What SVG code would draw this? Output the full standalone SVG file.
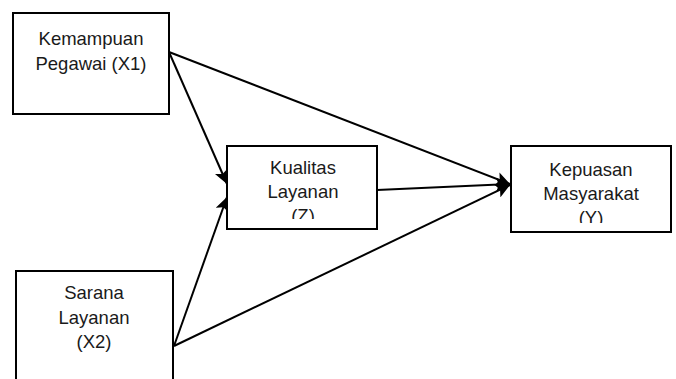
<svg xmlns="http://www.w3.org/2000/svg" width="676" height="379" viewBox="0 0 676 379">
<style>
.box{fill:#fff;stroke:#000;stroke-width:2}
.t{font-family:"Liberation Sans",Arial,sans-serif;font-size:18.5px;fill:#1a1a1a;text-anchor:middle}
.c{stroke:#000;stroke-width:2;fill:none;marker-end:url(#ah)}
</style>
<defs>
<marker id="ah" viewBox="0 0 14 14" refX="14" refY="7" markerWidth="14" markerHeight="14" markerUnits="userSpaceOnUse" orient="auto">
<path d="M0,0 L14,7 L0,14 L3,7 Z" fill="#000"/>
</marker>
<clipPath id="clipZ"><rect x="228" y="147" width="148" height="72"/></clipPath>
<clipPath id="clipY"><rect x="512" y="147" width="158" height="76"/></clipPath>
</defs>
<rect width="676" height="379" fill="#fff"/>
<g id="connectors">
<line class="c" x1="169" y1="52" x2="510" y2="184"/>
<line class="c" x1="169" y1="52" x2="227" y2="184"/>
<line class="c" x1="377" y1="190" x2="510" y2="184"/>
<line class="c" x1="174" y1="346" x2="227" y2="197"/>
<line class="c" x1="174" y1="346" x2="510" y2="185"/>
</g>
<g id="x1">
<rect class="box" x="13" y="13" width="156" height="101"/>
<text class="t" x="91" y="45">Kemampuan</text>
<text class="t" x="91" y="70">Pegawai (X1)</text>
</g>
<g id="x2">
<rect class="box" x="16" y="271" width="157" height="120"/>
<text class="t" x="94" y="299">Sarana</text>
<text class="t" x="94" y="324">Layanan</text>
<text class="t" x="94" y="348">(X2)</text>
</g>
<g id="z">
<rect class="box" x="227" y="146" width="150" height="83"/>
<g clip-path="url(#clipZ)">
<text class="t" x="303" y="174">Kualitas</text>
<text class="t" x="303" y="198">Layanan</text>
<text class="t" x="303" y="222">(Z)</text>
</g>
</g>
<g id="y">
<rect class="box" x="511" y="146" width="160" height="86"/>
<g clip-path="url(#clipY)">
<text class="t" x="591" y="176">Kepuasan</text>
<text class="t" x="591" y="200">Masyarakat</text>
<text class="t" x="591" y="224">(Y)</text>
</g>
</g>
</svg>
